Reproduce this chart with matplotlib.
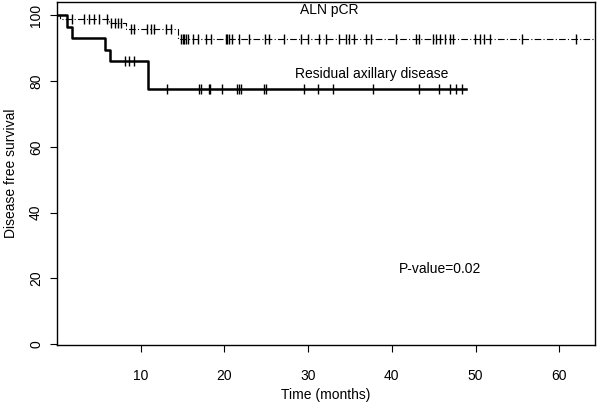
import numpy as np
import matplotlib
matplotlib.use("Agg")
import matplotlib.pyplot as plt

plt.rcParams['font.family'] = ['Liberation Sans', 'DejaVu Sans']

# Kaplan-Meier steps (time in months, survival in %)
aln_times = [0, 0.4, 6.2, 8.2, 14.5, 64.3]
aln_surv = [100, 98.8, 97.5, 95.9, 92.7, 92.7]
aln_censor = [1.8, 3.2, 3.8, 4.4, 5.0, 5.95, 6.5, 6.9, 7.3, 7.6, 8.8, 9.2,
              10.8, 11.2, 11.6, 13.0, 13.6, 14.8, 15.0, 15.2, 15.4, 15.6,
              16.2, 16.8, 17.8, 18.4, 20.2, 20.3, 20.5, 20.9, 21.7, 22.9,
              24.9, 25.3, 27.1, 29.1, 30.0, 31.3, 32.1, 33.7, 34.5, 34.9,
              35.5, 36.9, 37.5, 40.5, 42.9, 43.2, 44.9, 45.3, 45.7, 46.3,
              46.9, 47.3, 49.9, 50.5, 51.0, 51.7, 55.6, 62.0]

res_times = [0, 1.2, 1.8, 5.7, 6.3, 10.9, 48.9]
res_surv = [100, 96.3, 93.1, 89.5, 86.0, 77.7, 77.7]
res_censor = [8.1, 8.6, 9.2, 13.1, 17.0, 17.2, 18.2, 18.3, 19.7, 21.5, 21.7,
              22.0, 24.7, 25.0, 29.5, 31.2, 33.0, 37.8, 43.2, 45.6, 46.9,
              47.7, 48.4]

x_ticks = [10, 20, 30, 40, 50, 60]
y_ticks = [0, 20, 40, 60, 80, 100]


def surv_at(times, surv, t):
    idx = np.searchsorted(times, t, side='right') - 1
    return np.array(surv)[idx]


fig = plt.figure(figsize=(6, 4.08), dpi=100)
ax = fig.add_axes([0.095, 0.154, 0.897, 0.841])

# ALN pCR - thin dash-dot
ax.step(aln_times, aln_surv, where='post', color='black', lw=0.8,
        linestyle=(0, (6, 2, 1, 2)))
ax.plot(aln_censor, surv_at(aln_times, aln_surv, aln_censor), '|',
        color='black', ms=7, mew=1.0)

# Residual axillary disease - thick solid
ax.step(res_times[:-1] + [res_times[-1]], res_surv, where='post',
        color='black', lw=1.8)
ax.plot(res_censor, surv_at(res_times, res_surv, res_censor), '|',
        color='black', ms=7, mew=1.0)

ax.set_xlim(0, 64.3)
ax.set_ylim(-0.3, 104)
ax.set_xticks(x_ticks)
ax.set_yticks(y_ticks)
ax.set_yticklabels([str(v) for v in y_ticks], rotation=90, va='center')
ax.tick_params(axis='x', length=5, pad=12, labelsize=10)
ax.tick_params(axis='y', length=5, pad=5, labelsize=10)
for s in ax.spines.values():
    s.set_linewidth(1.0)

ax.set_xlabel('Time (months)', fontsize=10, labelpad=4)
ax.set_ylabel('Disease free survival', fontsize=10, labelpad=8)

ax.text(32.5, 101.5, 'ALN pCR', fontsize=10, ha='center', va='center')
ax.text(28.4, 82.0, 'Residual axillary disease', fontsize=10,
        ha='left', va='center')
ax.text(40.9, 23.0, 'P-value=0.02', fontsize=10, ha='left', va='center')

fig.savefig('out.png', dpi=100)
